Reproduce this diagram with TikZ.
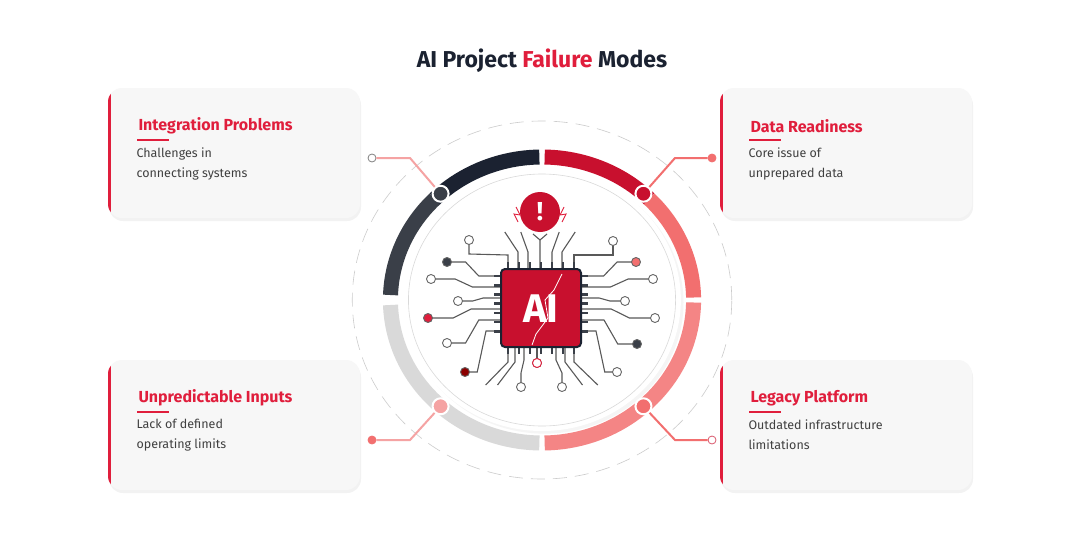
\documentclass[tikz,border=0pt]{standalone}
\usepackage{fontspec}
\setmainfont{Fira Sans}
\usetikzlibrary{shadows,calc}
\definecolor{ink}{HTML}{1B2231}
\definecolor{brand}{HTML}{E01E3C}
\definecolor{darkred}{HTML}{C8102E}
\definecolor{salmon}{HTML}{F26F6F}
\definecolor{pinky}{HTML}{F5A3A3}
\definecolor{slate}{HTML}{3A3F48}
\definecolor{lgray}{HTML}{D9D9D9}
\definecolor{cardbg}{HTML}{F7F7F7}
\begin{document}
\begin{tikzpicture}[x=1pt,y=-1pt,
    cardtitle/.style={anchor=west,text=brand,font=\fontsize{16}{18}\selectfont\bfseries},
    cardtext/.style={anchor=north west,text=black!75,align=left,font=\fontsize{12.5}{20}\selectfont},
    trace/.style={draw=black!65,line width=1.1pt},
    pad/.style={circle,draw=black!60,fill=white,line width=.9pt,inner sep=0pt,minimum size=9pt},
    knob/.style={circle,draw=white,line width=2pt,inner sep=0pt,minimum size=16pt},
    leg/.style={line width=2pt},
    tip/.style={circle,draw=black!50,line width=.8pt,inner sep=0pt,minimum size=8pt}]
\fill[white] (0,0) rectangle (1083,543);
\useasboundingbox (0,0) rectangle (1083,543);
% title
\node (title) at (542,61) {\fontsize{23}{26}\selectfont\bfseries\color{ink}AI Project \textcolor{brand}{Failure} Modes};
% cards
\foreach \x/\y/\nm/\ttl/\la/\lb in {
    108/88/integ/Integration Problems/Challenges in/connecting systems,
    720/88/data/Data Readiness/Core issue of/unprepared data,
    108/360/unpred/Unpredictable Inputs/Lack of defined/operating limits,
    720/360/legacy/Legacy Platform/Outdated infrastructure/limitations}
{
    \fill[cardbg,rounded corners=14pt,drop shadow={opacity=.10,shadow xshift=1pt,shadow yshift=-3pt}] (\x,\y) rectangle (\x+252,\y+130);
    \begin{scope}
        \clip[rounded corners=14pt] (\x,\y) rectangle (\x+252,\y+130);
        \fill[brand] (\x,\y) rectangle (\x+3,\y+130);
    \end{scope}
    \node[cardtitle] (\nm) at (\x+27,\y+38) {\ttl};
    \draw[brand,line width=2pt] (\x+29,\y+52) -- (\x+61,\y+52);
    \node[cardtext] (\nm-txt) at (\x+25,\y+56) {\la\\\lb};
}
% rings
\begin{scope}[shift={(542,300)},xscale=1.06,yscale=-1]
    \draw[black!20,dash pattern=on 14pt off 8pt,line width=.6pt] (0,0) circle (179);
    \draw[slate,line width=15pt] (178:143) arc (178:135:143);
    \draw[ink,line width=15pt] (135:143) arc (135:91:143);
    \draw[darkred,line width=15pt] (89:143) arc (89:45:143);
    \draw[salmon,line width=15pt] (45:143) arc (45:1:143);
    \draw[salmon!85,line width=15pt] (-1:143) arc (-1:-89:143);
    \draw[lgray,line width=15pt] (-91:143) arc (-91:-178:143);
    \fill[white,drop shadow={opacity=.08}] (0,0) circle (131);
    \draw[black!15,line width=.6pt] (0,0) circle (126);
    \node[knob,fill=slate] (kA) at (132:143) {};
    \node[knob,fill=darkred] (kB) at (48:143) {};
    \node[knob,fill=pinky] (kC) at (228:143) {};
    \node[knob,fill=salmon] (kD) at (-48:143) {};
\end{scope}
% legs to the cards
\node[tip,fill=white] (tA) at (372,158) {};
\node[tip,draw=salmon,fill=salmon] (tB) at (712,158) {};
\node[tip,draw=salmon,fill=salmon] (tC) at (372,440) {};
\node[tip,draw=darkred!70,fill=white] (tD) at (712,440) {};
\draw[leg,pinky] (kA) -- (410,158) -- (tA);
\draw[leg,salmon] (kB) -- (675,158) -- (tB);
\draw[leg,pinky] (kC) -- (410,440) -- (tC);
\draw[leg,salmon] (kD) -- (675,440) -- (tD);
% traces, left and right
\foreach \px/\py/\ex/\ey/\c in {500/276/447/262/slate, 500/287/431/279/white, 500/298/458/301/white,
    500/309/428/318/brand, 500/320/447/343/white, 500/331/465/372/black!45!red,
    582/276/636/262/salmon, 582/287/653/279/white, 582/298/625/301/white,
    582/309/655/318/white, 582/320/637/344/slate, 582/331/617/372/white}
{
    \coordinate (p) at (\px,\py);
    \coordinate (e) at (\ex,\ey);
    \draw[trace] (p) -- ($(p)!0.4!(e|-p)$) -- ($(e)!0.35!(p|-e)$) -- (e);
    \node[pad,fill=\c] at (e) {};
}
% traces, top and bottom
\foreach \px/\ex/\ey/\c in {508/469/240/white, 574/613/241/white}
{
    \draw[trace] (\px,268) -- (\px,255) -- (\ex,\ey+14) -- (\ex,\ey);
    \node[pad,fill=\c] at (\ex,\ey) {};
}
\foreach \px in {518,528,552,562}
    \draw[trace] (\px,268) -- (\px,252) -- ({\px+(\px-540)*.6},232);
\draw[trace] (540,268) -- (540,240) -- (533,234) (540,240) -- (547,234);
\foreach \px/\ex/\ey/\c in {524/521/387/white, 556/562/387/white, 537/537/363/white}
{
    \draw[trace] (\px,348) -- (\px,360) -- (\ex,\ey-14) -- (\ex,\ey);
    \node[pad,fill=\c] at (\ex,\ey) {};
}
\node[pad,draw=brand] (redpad) at (537,363) {};
\foreach \px in {508,515,565,574}
    \draw[trace] (\px,348) -- (\px,362) -- ({\px+(\px-540)*.7},385);
% alert
\node[circle,fill=darkred,minimum size=40pt,inner sep=0pt,text=white,font=\fontsize{26}{26}\selectfont\bfseries] (alert) at (540,212) {!};
\draw[brand,line width=.9pt] (518,222) -- (514,214) -- (520,215) -- (516,207);
\draw[brand,line width=.9pt] (562,222) -- (566,214) -- (560,215) -- (564,207);
% chip
\foreach \k in {0,...,6}{
    \draw[slate,line width=2.6pt] (494,276+\k*9.2) -- (588,276+\k*9.2);
    \draw[slate,line width=2.6pt] (508+\k*11,262) -- (508+\k*11,354);
}
\node[draw=ink,line width=2pt,fill=darkred,rounded corners=4pt,minimum width=80pt,minimum height=78pt,inner sep=0pt] (chip) at (541,308) {};
\node[text=white,font=\fontsize{40}{40}\selectfont\bfseries] (ai) at (541,309) {AI};
\draw[white,line width=.8pt] (562,274) -- (554,290) -- (545,300) -- (548,318) -- (536,334) -- (532,345);
\end{tikzpicture}
\end{document}
